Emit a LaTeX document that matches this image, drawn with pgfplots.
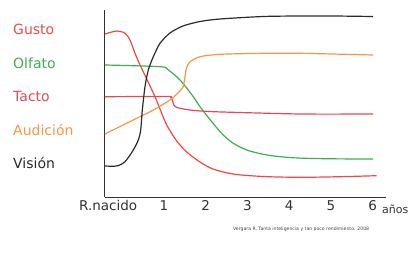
\documentclass[border=0pt]{standalone}
\usepackage{pgfplots}
\pgfplotsset{compat=1.18}
\usepackage{fontspec}
\setmainfont{DejaVu Sans}
\definecolor{cgusto}{HTML}{EE4A44}
\definecolor{colfato}{HTML}{3DAE52}
\definecolor{ctacto}{HTML}{E24A58}
\definecolor{caudi}{HTML}{F79646}
\definecolor{cvision}{HTML}{2B2B2B}
\begin{document}
\begin{tikzpicture}
\useasboundingbox (0,0) rectangle (413pt,263pt);
\begin{axis}[at={(105pt,66pt)}, anchor=south west, scale only axis,
  width=281pt, height=187pt,
  xmin=-0.407, xmax=6.316, ymin=0, ymax=187,
  axis lines=left, axis line style={-, color=black!80, line width=1pt},
  xtick={-0.33,1,2,3,4,5,6}, xticklabels={R.nacido,1,2,3,4,5,6},
  ytick=\empty, major tick length=0pt,
  tick label style={font=\fontsize{13.5}{15}\selectfont, text=black!80},
  /pgf/number format/assume math mode=true, clip=false]
% Gusto
\addplot[cgusto, line width=1.2pt, smooth, tension=0.5] coordinates {
(-0.407,163) (-0.127,166) (0.072,163.7) (0.191,157) (0.311,143.7) (0.431,132)
(0.591,118) (0.789,100.3) (0.909,88) (1.069,72) (1.309,56) (1.548,45)
(1.866,35) (2.177,28) (2.656,23) (3.373,20.5) (4.258,19.7) (5.215,20.3) (6.093,21.3)};
% Olfato
\addplot[colfato, line width=1.2pt, smooth, tension=0.5] coordinates {
(-0.407,132) (0.909,130.3) (1.108,127) (1.388,117) (1.706,100.3) (1.866,90.3)
(2.177,73.7) (2.423,62) (2.663,53.7) (2.983,47) (3.380,42.7) (3.780,40.3)
(4.258,38.9) (5.0,38.2) (6.005,38)};
% Tacto
\addplot[ctacto, line width=1.2pt, smooth, tension=0.4] coordinates {
(-0.407,100.3) (1.069,100.5) (1.170,99.5) (1.205,96.5) (1.240,92)
(1.309,89.5) (1.388,88.7) (1.627,87) (2.184,85.3) (4.258,83) (6.005,83)};
% Audicion
\addplot[caudi, line width=1.2pt, smooth, tension=0.4] coordinates {
(-0.407,63) (0.270,77) (0.749,87) (1.148,97) (1.388,106) (1.466,110.5)
(1.507,120.3) (1.543,129) (1.627,135.3) (1.866,140.3) (2.344,142.7)
(3.380,143.7) (4.258,143.7) (6.012,142)};
% Vision
\addplot[cvision, line width=1.2pt, smooth, tension=0.45] coordinates {
(-0.407,31) (-0.127,31) (0.072,35.3) (0.270,47) (0.390,57) (0.447,67)
(0.486,87) (0.550,110.3) (0.629,127) (0.749,140.3) (0.909,153.7) (1.148,164)
(1.459,171) (1.866,175.5) (2.344,178) (3.373,180.5) (4.258,181) (5.048,181) (6.005,180.5)};
\end{axis}
\begin{scope}[every node/.style={anchor=west, inner sep=0pt, font=\fontsize{14}{16}\selectfont}]
\node[text=cgusto] at (13pt,234pt) {Gusto};
\node[text=colfato] at (13pt,200pt) {Olfato};
\node[text=ctacto] at (13pt,167pt) {Tacto};
\node[text=caudi] at (13pt,133pt) {Audición};
\node[text=cvision] at (13pt,100pt) {Visión};
\end{scope}
\node[anchor=west, inner sep=0pt, font=\fontsize{11}{12}\selectfont, text=black!80] at (382pt,54pt) {años};
\node[anchor=west, inner sep=0pt, font=\fontsize{4.6}{5}\selectfont, text=black!75] at (233pt,34pt) {Vergara R. Tanta inteligencia y tan poco rendimiento. 2008};
\end{tikzpicture}
\end{document}
